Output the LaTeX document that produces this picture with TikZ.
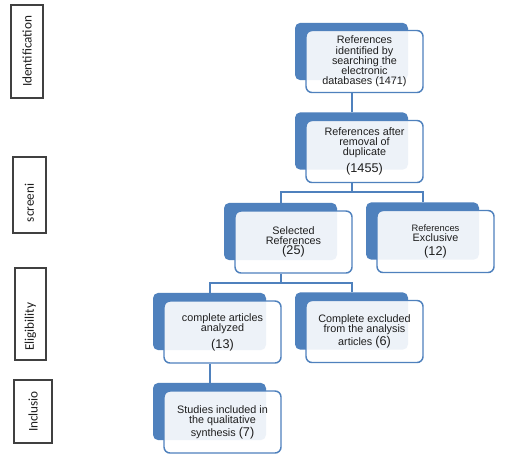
\documentclass[tikz,border=0pt]{standalone}
\usepackage{fontspec}
\setmainfont{Liberation Sans}
\newfontfamily\stagefont{Carlito}
\usetikzlibrary{calc,positioning}
\definecolor{BoxClr}{RGB}{79,129,189}
\definecolor{FrameClr}{RGB}{64,64,64}
\definecolor{TextClr}{RGB}{30,30,30}
\newcommand{\cnt}[1]{{\fontsize{9.5pt}{9.5pt}\selectfont #1}}

\begin{document}
\begin{tikzpicture}[x=0.75pt,y=-0.75pt,
  back/.style={fill=BoxClr,rounded corners=4pt,minimum width=84.75pt,minimum height=43pt,inner sep=0pt},
  front/.style={draw=BoxClr,line width=1.1pt,fill=white,fill opacity=0.9,text opacity=1,rounded corners=4.5pt,minimum width=87.75pt,minimum height=46.5pt,inner sep=1pt,align=center,text=TextClr,font=\fontsize{8.1pt}{7.7pt}\selectfont},
  link/.style={draw=BoxClr,line width=1.5pt},
  stage/.style={draw=FrameClr,line width=0.8pt,rotate=90,inner sep=0pt,text=TextClr,font=\stagefont\fontsize{9.9pt}{10pt}\selectfont}]
\useasboundingbox[fill=white] (0,0) rectangle (516,465);

\node[stage,minimum width=69.75pt,minimum height=24pt] (s1) at (27,51.5) {Identification};
\node[stage,minimum width=57pt,minimum height=24.75pt] (s2) at (29.5,195) {screeni\hspace*{12pt}};
\node[stage,minimum width=69pt,minimum height=23.25pt] (s3) at (30.5,314) {Eligibility\hspace*{19pt}};
\node[stage,minimum width=47.25pt,minimum height=28.5pt] (s4) at (33,411.5) {Inclusio};

\node[back] (b1) at (351.5,51.5) {};
\node[front] (f1) at ($(b1)+(13,10)$) {References\\identified by\\searching the\\electronic\\databases (1471)};

\node[back] (b2) at (351.5,141) {};
\node[front] (f2) at ($(b2)+(13,10.5)$) {References after\\removal of\\duplicate\\[3pt]\cnt{(1455)}};

\node[back] (b3) at (280.5,231.5) {};
\node[front] (f3) at ($(b3)+(13,10.5)$) {Selected\\References\\\cnt{(25)}};

\node[back] (b4) at (422.5,231) {};
\node[front] (f4) at ($(b4)+(13,10.5)$) {{\fontsize{7pt}{7pt}\selectfont References}\\Exclusive\\[3pt]\cnt{(12)}};

\node[back] (b5) at (209.5,321.5) {};
\node[front] (f5) at ($(b5)+(13,10.5)$) {complete articles\\analyzed\\[3pt]\cnt{(13)}};

\node[back] (b6) at (351.5,321) {};
\node[front] (f6) at ($(b6)+(13,10.5)$) {Complete excluded\\from the analysis\\articles \cnt{(6)}};

\node[back] (b7) at (209.5,411.5) {};
\node[front] (f7) at ($(b7)+(13,10.5)$) {Studies included in\\the qualitative\\synthesis \cnt{(7)}};

\draw[link] (f1.south -| b1) -- (b2.north);

\coordinate (j2) at ($(f2.south -| b2)+(0,9)$);
\draw[link] (f2.south -| b2) -- (j2) -| (b3.north);
\draw[link] (j2) -| (b4.north);

\coordinate (j3) at ($(f3.south -| b3)+(0,9)$);
\draw[link] (f3.south -| b3) -- (j3) -| (b5.north);
\draw[link] (j3) -| (b6.north);

\draw[link] (f5.south -| b5) -- (b7.north);
\end{tikzpicture}
\end{document}
